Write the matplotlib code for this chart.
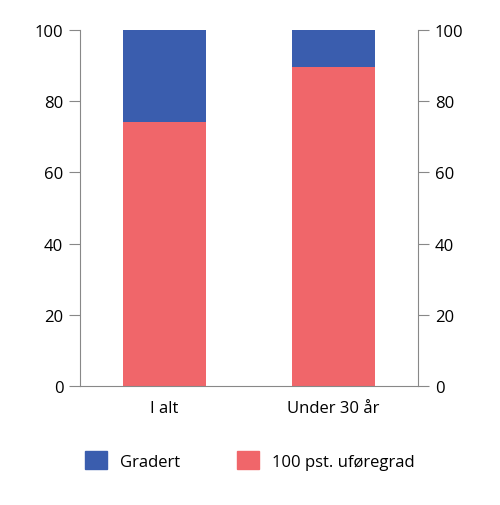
import matplotlib
matplotlib.use("Agg")
import matplotlib.pyplot as plt
from matplotlib.patches import Patch

plt.rcParams['font.family'] = ['Open Sans', 'DejaVu Sans']

categories = ["I alt", "Under 30 år"]
full = [74, 89.5]
graded = [26, 10.5]
series_names = ["Gradert", "100 pst. uføregrad"]
blue = "#3a5dae"
red = "#f0666a"

fig = plt.figure(figsize=(5.0, 5.06), dpi=100)
ax = fig.add_axes([0.16, 0.235, 0.676, 0.704])
x = range(len(categories))
ax.bar(x, full, width=0.49, color=red)
ax.bar(x, graded, bottom=full, width=0.49, color=blue)
ax.set_xlim(-0.5, 1.5)
ax.set_ylim(0, 100)
ax.set_xticks(list(x))
ax.set_xticklabels(categories, fontsize=12)
ax.set_yticks(range(0, 101, 20))
ax.tick_params(axis='y', labelsize=12, length=8, color='#888888', right=True, labelright=True, pad=4)
ax.tick_params(axis='x', length=0, pad=10)
for s in ['top']:
    ax.spines[s].set_visible(False)
for s in ['left', 'right', 'bottom']:
    ax.spines[s].set_color('#888888')
    ax.spines[s].set_linewidth(0.8)

handles = [Patch(color=blue), Patch(color=red)]
fig.legend(handles, series_names, loc='center', bbox_to_anchor=(0.5, 0.088), ncol=2,
           frameon=False, fontsize=12, handlelength=1.3, handleheight=1.3, columnspacing=3.4)
fig.savefig("out.png", dpi=100)
